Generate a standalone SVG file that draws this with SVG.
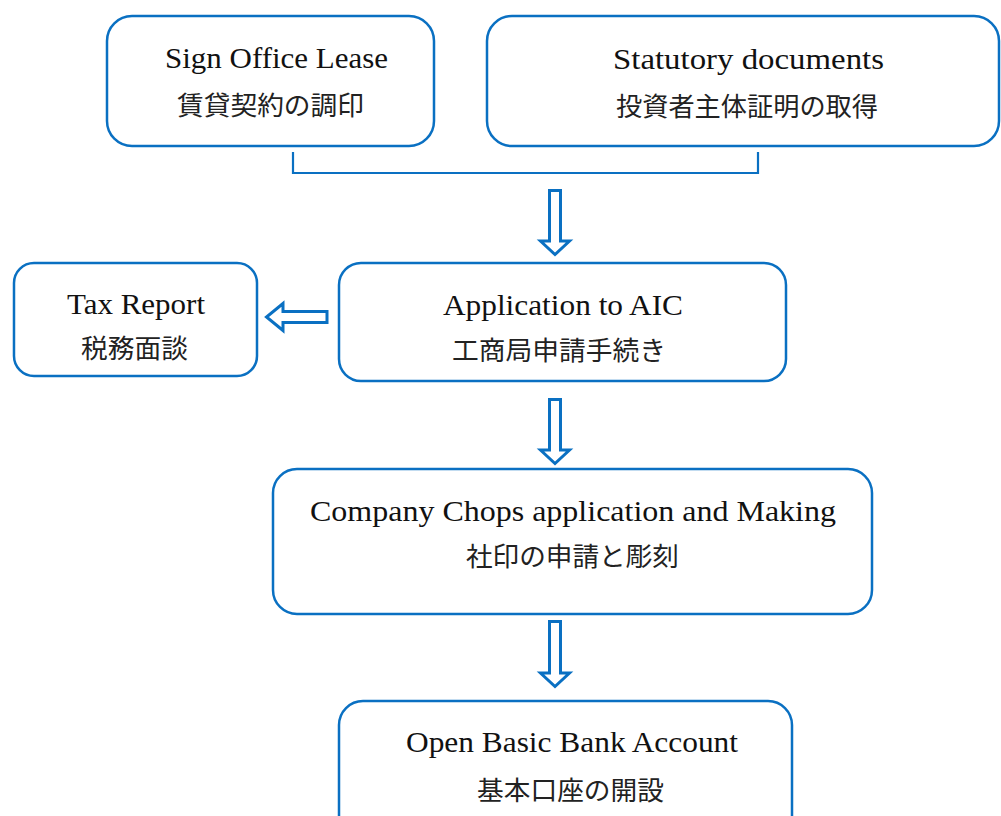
<svg xmlns="http://www.w3.org/2000/svg" width="1001" height="816" viewBox="0 0 1001 816">
  <style>
    .box { fill: #ffffff; stroke: #0a70c2; stroke-width: 2.5; }
    .arrow { fill: #ffffff; stroke: #0a70c2; stroke-width: 3; stroke-linejoin: miter; }
    .bracket { fill: none; stroke: #0a70c2; stroke-width: 2.2; }
    .en { font-family: "Liberation Serif", "Times New Roman", serif; font-size: 30px; fill: #111111; }
    .jp { font-family: "Liberation Serif", "Noto Sans CJK JP", sans-serif; font-size: 26px; fill: #222222; }
  </style>
  <rect width="1001" height="816" fill="#ffffff"/>

  <g id="node-lease">
    <rect class="box" x="107" y="16" width="327" height="130" rx="25"/>
    <text class="en" x="165" y="68" textLength="223" lengthAdjust="spacingAndGlyphs">Sign Office Lease</text>
    <text class="jp" x="177" y="115" textLength="187" lengthAdjust="spacingAndGlyphs">賃貸契約の調印</text>
  </g>

  <g id="node-statutory">
    <rect class="box" x="487" y="16" width="512" height="130" rx="25"/>
    <text class="en" x="613" y="69" textLength="271" lengthAdjust="spacingAndGlyphs">Statutory documents</text>
    <text class="jp" x="616" y="116" textLength="262" lengthAdjust="spacingAndGlyphs">投資者主体証明の取得</text>
  </g>

  <g id="node-aic">
    <rect class="box" x="339" y="263" width="447" height="118" rx="22"/>
    <text class="en" x="443" y="315" textLength="240" lengthAdjust="spacingAndGlyphs">Application to AIC</text>
    <text class="jp" x="452" y="360" textLength="214" lengthAdjust="spacingAndGlyphs">工商局申請手続き</text>
  </g>

  <g id="node-tax">
    <rect class="box" x="14" y="263" width="243" height="113" rx="20"/>
    <text class="en" x="67" y="314" textLength="138" lengthAdjust="spacingAndGlyphs">Tax Report</text>
    <text class="jp" x="81" y="358" textLength="107" lengthAdjust="spacingAndGlyphs">税務面談</text>
  </g>

  <g id="node-chops">
    <rect class="box" x="273" y="469" width="599" height="145" rx="24"/>
    <text class="en" x="310" y="521" textLength="526" lengthAdjust="spacingAndGlyphs">Company Chops application and Making</text>
    <text class="jp" x="466" y="566" textLength="213" lengthAdjust="spacingAndGlyphs">社印の申請と彫刻</text>
  </g>

  <g id="node-bank">
    <rect class="box" x="339" y="701" width="453" height="140" rx="24"/>
    <text class="en" x="406" y="752" textLength="332" lengthAdjust="spacingAndGlyphs">Open Basic Bank Account</text>
    <text class="jp" x="477" y="800" textLength="187" lengthAdjust="spacingAndGlyphs">基本口座の開設</text>
  </g>

  <g id="connectors">
    <!-- bracket joining the two starting tasks -->
    <polyline class="bracket" points="293,152 293,173 758,173 758,152"/>
    <!-- hollow block arrows -->
    <polygon class="arrow" points="549.5,190.5 560.5,190.5 560.5,241 569.5,241 555,254.5 540.5,241 549.5,241"/>
    <polygon class="arrow" points="549.5,399.5 560.5,399.5 560.5,450 569.5,450 555,463.5 540.5,450 549.5,450"/>
    <polygon class="arrow" points="549.5,621.5 560.5,621.5 560.5,673 569.5,673 555,686.5 540.5,673 549.5,673"/>
    <polygon class="arrow" points="327,311.5 327,322.5 283,322.5 283,330.5 266.5,317 283,303.5 283,311.5"/>
  </g>
</svg>
